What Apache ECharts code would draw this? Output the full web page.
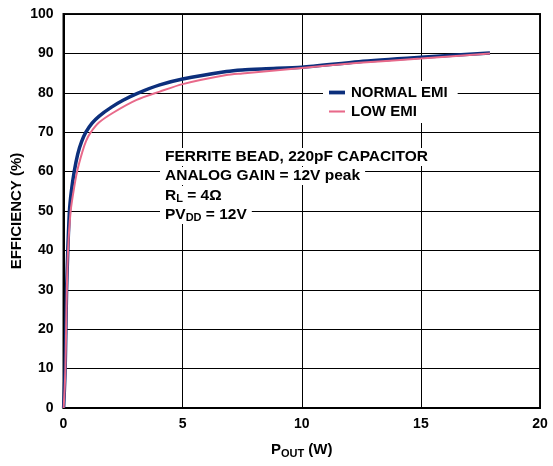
<!DOCTYPE html>
<html>
<head>
<meta charset="utf-8">
<script src="https://cdn.jsdelivr.net/npm/echarts@6/dist/echarts.min.js"></script>
<style>html,body{margin:0;padding:0;background:#fff}#c{width:553px;height:466px}</style>
</head>
<body>
<div id="c"></div>
<script>
var xTicks = [0, 5, 10, 15, 20];
var yTicks = [0, 10, 20, 30, 40, 50, 60, 70, 80, 90, 100];
var seriesNames = ['NORMAL EMI', 'LOW EMI'];
var normalEmi = [
  [0.005, 0], [0.04, 5], [0.07, 10], [0.10, 20], [0.13, 30], [0.18, 40], [0.25, 50],
  [0.33, 55], [0.45, 60], [0.6, 64.5], [0.76, 67.6], [0.94, 70], [1.2, 72.3], [1.5, 74.1], [2.0, 76.3],
  [2.5, 78.1], [3.08, 79.8], [4.04, 82], [5, 83.5], [6.84, 85.4], [7.5, 85.8], [8.5, 86.1],
  [10, 86.5], [12.4, 87.9], [15, 89.0], [17.9, 90.1]
];
var lowEmi = [
  [0.005, 0], [0.05, 5], [0.08, 10], [0.11, 20], [0.14, 30], [0.19, 40], [0.30, 50],
  [0.42, 55], [0.57, 60], [0.78, 64.8], [0.95, 67.8], [1.15, 70], [1.5, 72.5], [2.1, 75], [3.07, 78.2],
  [4.04, 80.3], [5, 82.2], [6.84, 84.5], [7.5, 84.9], [10, 86.3], [12.4, 87.6],
  [15, 88.7], [17.9, 90.0]
];
var noteLines = [
  'FERRITE BEAD, 220pF CAPACITOR',
  'ANALOG GAIN = 12V peak',
  'R{sub|L} = 4Ω',
  'PV{sub|DD} = 12V'
];

var FONT = '"Liberation Sans", Arial, Helvetica, sans-serif';
var chart = echarts.init(document.getElementById('c'), null, {renderer: 'canvas'});
var noteTops = [148, 167, 186, 205];
var graphics = noteLines.map(function (t, i) {
  return {
    type: 'text',
    left: 160,
    top: noteTops[i],
    z: 100,
    style: {
      text: t,
      fill: '#000',
      font: 'bold 15.5px ' + FONT,
      backgroundColor: '#fff',
      padding: [1, 5, 1, 5],
      rich: {
        sub: {fontSize: 11, fontWeight: 'bold', fontFamily: FONT, fill: '#000', verticalAlign: 'bottom', padding: [6, 0, 0, 0]}
      }
    }
  };
});

chart.setOption({
  animation: false,
  backgroundColor: '#fff',
  grid: {left: 63.5, right: 13, top: 14, bottom: 58, show: true, borderColor: '#111', borderWidth: 2,
    backgroundColor: 'transparent', containLabel: false, outerBoundsMode: 'none'},
  legend: {
    data: [
      {name: seriesNames[0], icon: 'path://M0,0h17v4h-17z'},
      {name: seriesNames[1], icon: 'path://M0,0h17v2.2h-17z'}
    ],
    orient: 'vertical',
    left: 323,
    top: 81,
    padding: [4, 10, 4, 6],
    itemGap: 4,
    itemWidth: 16,
    itemHeight: 14,
    backgroundColor: '#fff',
    z: 50,
    textStyle: {fontFamily: FONT, fontWeight: 'bold', fontSize: 15, color: '#000', padding: [0, 0, 0, 1]}
  },
  xAxis: {
    type: 'value', min: 0, max: 20, interval: 5,
    name: '{p|P}{s|OUT}{p| (W)}',
    nameLocation: 'middle', nameGap: 33,
    nameTextStyle: {rich: {
      p: {fontFamily: FONT, fontWeight: 'bold', fontSize: 15, color: '#000'},
      s: {fontFamily: FONT, fontWeight: 'bold', fontSize: 11, color: '#000', verticalAlign: 'bottom', padding: [7, 0, 0, 0]}
    }},
    axisLine: {show: true, onZero: false, lineStyle: {color: '#000', width: 2}},
    axisTick: {show: false},
    splitLine: {show: true, lineStyle: {color: '#000', width: 1}},
    axisLabel: {fontFamily: FONT, fontWeight: 'bold', fontSize: 14, color: '#000', margin: 9,
      formatter: function (v) { return xTicks.indexOf(v) >= 0 ? String(v) : ''; }}
  },
  yAxis: {
    type: 'value', min: 0, max: 100, interval: 10,
    name: 'EFFICIENCY (%)',
    nameLocation: 'middle', nameGap: 39, nameMoveOverlap: false,
    nameTextStyle: {fontFamily: FONT, fontWeight: 'bold', fontSize: 15, color: '#000'},
    axisLine: {show: true, onZero: false, lineStyle: {color: '#000', width: 2}},
    axisTick: {show: false},
    splitLine: {show: true, lineStyle: {color: '#000', width: 1}},
    axisLabel: {fontFamily: FONT, fontWeight: 'bold', fontSize: 14, color: '#000', margin: 10,
      formatter: function (v) { return yTicks.indexOf(v) >= 0 ? String(v) : ''; }}
  },
  series: [
    {name: seriesNames[0], type: 'line', data: normalEmi, showSymbol: false, symbol: 'none', smooth: 0.25,
      lineStyle: {color: '#0c2f7c', width: 3.5}, itemStyle: {color: '#0c2f7c'}, z: 3},
    {name: seriesNames[1], type: 'line', data: lowEmi, showSymbol: false, symbol: 'none', smooth: 0.25,
      lineStyle: {color: '#e8698a', width: 2}, itemStyle: {color: '#e8698a'}, z: 4}
  ],
  graphic: graphics
});
</script>
</body>
</html>
